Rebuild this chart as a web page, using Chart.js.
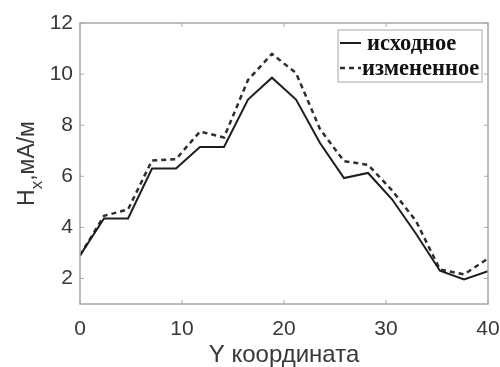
<!DOCTYPE html>
<html>
<head>
<meta charset="utf-8">
<script src="https://cdn.jsdelivr.net/npm/chart.js@4.4.0/dist/chart.umd.min.js"></script>
<style>
  html, body { margin: 0; padding: 0; background: #fff; }
  #wrap { width: 500px; height: 367px; }
</style>
</head>
<body>
<div id="wrap"><canvas id="c" width="500" height="367"></canvas></div>
<script>
// ---- data ----
const xCoords = [0, 2.35, 4.71, 7.06, 9.41, 11.76, 14.12, 16.47, 18.82, 21.18, 23.53, 25.88, 28.24, 30.59, 32.94, 35.29, 37.65, 40];
const original = [2.9, 4.35, 4.35, 6.3, 6.3, 7.15, 7.15, 9.0, 9.86, 9.0, 7.3, 5.93, 6.13, 5.1, 3.75, 2.3, 1.96, 2.28];
const modified = [2.9, 4.45, 4.7, 6.62, 6.67, 7.75, 7.52, 9.77, 10.79, 10.04, 7.85, 6.59, 6.45, 5.45, 4.25, 2.35, 2.16, 2.78];
const seriesNames = ['исходное', 'измененное'];
const xTicks = [0, 10, 20, 30, 40];
const yTicks = [2, 4, 6, 8, 10, 12];
const xTitle = 'Y координата';
const yTitleMain = 'H';
const yTitleSub = 'x';
const yTitleRest = ',мА/м';

const toPts = (ys) => ys.map((y, i) => ({ x: xCoords[i], y: y }));

const frameColor = '#a8a8a8';
const textColor = '#383838';
const sans = '"Liberation Sans", Arial, sans-serif';

const framePlugin = {
  id: 'frame',
  afterDraw(chart) {
    const { ctx, chartArea: a, scales } = chart;
    ctx.save();
    ctx.strokeStyle = frameColor;
    ctx.lineWidth = 1.5;
    ctx.strokeRect(a.left, a.top, a.right - a.left, a.bottom - a.top);
    // inward tick marks on all four sides
    ctx.lineWidth = 1;
    const tl = 4;
    scales.x.ticks.forEach(t => {
      const px = scales.x.getPixelForValue(t.value);
      ctx.beginPath(); ctx.moveTo(px, a.bottom); ctx.lineTo(px, a.bottom - tl); ctx.stroke();
      ctx.beginPath(); ctx.moveTo(px, a.top); ctx.lineTo(px, a.top + tl); ctx.stroke();
    });
    scales.y.ticks.forEach(t => {
      const py = scales.y.getPixelForValue(t.value);
      ctx.beginPath(); ctx.moveTo(a.left, py); ctx.lineTo(a.left + tl, py); ctx.stroke();
      ctx.beginPath(); ctx.moveTo(a.right, py); ctx.lineTo(a.right - tl, py); ctx.stroke();
    });

    // y-axis title with subscript
    ctx.fillStyle = textColor;
    ctx.textBaseline = 'alphabetic';
    ctx.textAlign = 'left';
    const mainFont = '23px ' + sans;
    const subFont = '17px ' + sans;
    ctx.font = mainFont; const wH = ctx.measureText(yTitleMain).width;
    const wR = ctx.measureText(yTitleRest).width;
    ctx.font = subFont; const wS = ctx.measureText(yTitleSub).width;
    const total = wH + wS + wR;
    const cy = (a.top + a.bottom) / 2;
    ctx.translate(34, cy);
    ctx.rotate(-Math.PI / 2);
    let x0 = -total / 2;
    ctx.font = mainFont; ctx.fillText(yTitleMain, x0, 0); x0 += wH;
    ctx.font = subFont; ctx.fillText(yTitleSub, x0, 8); x0 += wS;
    ctx.font = mainFont; ctx.fillText(yTitleRest, x0, 0);
    ctx.restore();

    // legend box inside the plot (top-right)
    ctx.save();
    const bx = 338, by = 30, bw = 144, bh = 52;
    ctx.fillStyle = '#ffffff';
    ctx.fillRect(bx, by, bw, bh);
    ctx.strokeStyle = frameColor;
    ctx.lineWidth = 1;
    ctx.strokeRect(bx, by, bw, bh);
    ctx.font = 'bold 22.5px "Liberation Serif", "Times New Roman", serif';
    ctx.textBaseline = 'middle';
    ctx.textAlign = 'left';
    chart.data.datasets.forEach((ds, i) => {
      const ry = by + 13 + i * 25;
      ctx.strokeStyle = ds.borderColor;
      ctx.lineWidth = ds.borderWidth;
      ctx.setLineDash(ds.borderDash || []);
      ctx.beginPath(); ctx.moveTo(bx + 2, ry); ctx.lineTo(bx + 23, ry); ctx.stroke();
      ctx.setLineDash([]);
      ctx.fillStyle = '#111111';
      ctx.fillText(ds.label, bx + (i === 0 ? 29 : 24), ry + 1);
    });
    ctx.restore();
  }
};

new Chart(document.getElementById('c'), {
  type: 'line',
  data: {
    datasets: [
      { label: seriesNames[0], data: toPts(original), borderColor: '#1e1e1e', borderWidth: 2, pointRadius: 0, tension: 0, fill: false },
      { label: seriesNames[1], data: toPts(modified), borderColor: '#2e2e2e', borderWidth: 2.5, borderDash: [5, 4], pointRadius: 0, tension: 0, fill: false }
    ]
  },
  options: {
    responsive: false,
    animation: false,
    events: [],
    layout: { padding: { left: 0, right: 12, top: 23, bottom: 0 } },
    plugins: { legend: { display: false }, tooltip: { enabled: false } },
    scales: {
      x: {
        type: 'linear', min: 0, max: 40,
        afterBuildTicks: (s) => { s.ticks = xTicks.map(v => ({ value: v })); },
        afterFit: (s) => { s.height = 63; s.paddingLeft = 0; s.paddingRight = 0; },
        grid: { display: false, drawTicks: false },
        border: { display: false },
        ticks: { color: textColor, padding: 13, maxRotation: 0, font: { family: sans, size: 21 } },
        title: { display: true, text: xTitle, color: textColor, padding: { top: 0, bottom: 0 }, font: { family: sans, size: 24, lineHeight: 1.0 } }
      },
      y: {
        type: 'linear', min: 1, max: 12,
        afterBuildTicks: (s) => { s.ticks = yTicks.map(v => ({ value: v })); },
        afterFit: (s) => { s.width = 80; s.paddingTop = 0; s.paddingBottom = 0; },
        grid: { display: false, drawTicks: false },
        border: { display: false },
        ticks: { color: textColor, padding: 7, font: { family: sans, size: 21 } }
      }
    }
  },
  plugins: [framePlugin]
});
</script>
</body>
</html>
